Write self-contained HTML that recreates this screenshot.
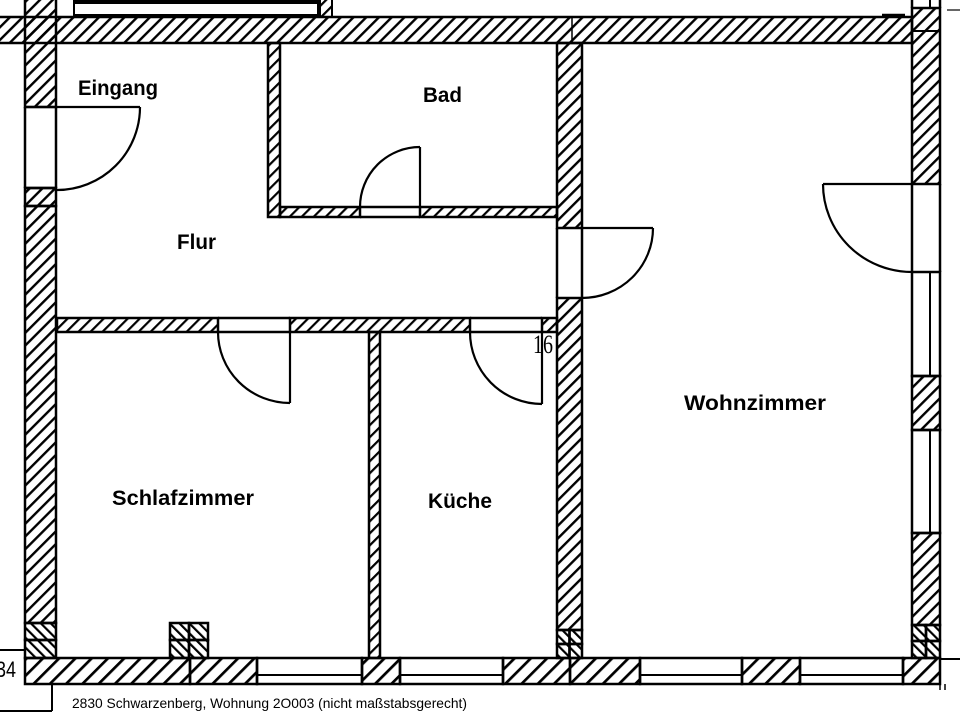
<!DOCTYPE html>
<html><head><meta charset="utf-8"><style>
html,body{margin:0;padding:0;background:#fff;}
svg{display:block;}
</style></head><body>
<svg width="960" height="720" viewBox="0 0 960 720" xmlns="http://www.w3.org/2000/svg">
<defs>
<pattern id="hA" width="9" height="9" patternUnits="userSpaceOnUse" patternTransform="rotate(45)"><rect x="0" y="0" width="2.4" height="9" fill="#000"/></pattern>
<pattern id="hB" width="11.5" height="11.5" patternUnits="userSpaceOnUse" patternTransform="rotate(45)"><rect x="0" y="0" width="2.7" height="11.5" fill="#000"/></pattern>
<pattern id="hT" width="8.5" height="8.5" patternUnits="userSpaceOnUse" patternTransform="rotate(45)"><rect x="0" y="0" width="2.2" height="8.5" fill="#000"/></pattern>
<pattern id="hX" width="7" height="7" patternUnits="userSpaceOnUse" patternTransform="rotate(-45)"><rect x="0" y="0" width="2.2" height="7" fill="#000"/></pattern>
</defs>
<rect width="960" height="720" fill="#fff"/>

<!-- top frame -->
<g stroke="#000" stroke-width="2" fill="none">
  <rect x="73" y="0" width="247" height="4" fill="#000" stroke="none"/>
  <line x1="73" y1="15" x2="318" y2="15"/>
  <line x1="74" y1="0" x2="74" y2="17"/>
  <line x1="318" y1="0" x2="318" y2="16"/>
</g>
<rect x="320" y="-2" width="12" height="19" fill="url(#hT)" stroke="#000" stroke-width="2"/>
<line x1="882" y1="15" x2="905" y2="15" stroke="#000" stroke-width="2.5"/>
<line x1="947" y1="10" x2="960" y2="10" stroke="#000" stroke-width="1.2"/>

<g stroke="#000" stroke-width="2.5">
  <!-- top wall -->
  <rect x="-2" y="17" width="914" height="26" fill="url(#hA)"/>
  <line x1="572" y1="17" x2="572" y2="43" stroke-width="1.5"/>

  <!-- left wall -->
  <rect x="25" y="-3" width="31" height="110" fill="url(#hA)"/>
  <rect x="25" y="188" width="31" height="18" fill="url(#hA)"/>
  <rect x="25" y="206" width="31" height="417" fill="url(#hA)"/>
  <rect x="25" y="623" width="31" height="17" fill="url(#hX)"/>
  <rect x="25" y="640" width="31" height="18" fill="url(#hX)"/>
  <line x1="25" y1="107" x2="25" y2="188"/>
  <line x1="56" y1="107" x2="56" y2="188"/>
  <line x1="25" y1="188" x2="56" y2="188"/>

  <!-- right wall -->
  <line x1="912" y1="0" x2="912" y2="8"/>
  <line x1="930" y1="0" x2="930" y2="8" stroke-width="2"/>
  <line x1="940" y1="0" x2="940" y2="8"/>
  <rect x="912" y="8" width="28" height="176" fill="url(#hA)"/>
  <line x1="912" y1="31" x2="940" y2="31" stroke-width="2"/>
  <line x1="912" y1="184" x2="912" y2="272"/>
  <line x1="940" y1="184" x2="940" y2="272"/>
  <rect x="912" y="272" width="28" height="104" fill="none"/>
  <line x1="930" y1="272" x2="930" y2="376" stroke-width="2"/>
  <rect x="912" y="376" width="28" height="54" fill="url(#hA)"/>
  <rect x="912" y="430" width="28" height="103" fill="none"/>
  <line x1="930" y1="430" x2="930" y2="533" stroke-width="2"/>
  <rect x="912" y="533" width="28" height="92" fill="url(#hA)"/>
  <rect x="912" y="625" width="14" height="16" fill="url(#hX)"/>
  <rect x="926" y="625" width="14" height="16" fill="url(#hX)"/>
  <rect x="912" y="641" width="14" height="17" fill="url(#hX)"/>
  <rect x="926" y="641" width="14" height="17" fill="url(#hX)"/>

  <!-- bottom wall -->
  <rect x="25" y="658" width="165" height="26" fill="url(#hB)"/>
  <rect x="190" y="658" width="67" height="26" fill="url(#hB)"/>
  <rect x="257" y="658" width="105" height="26" fill="none"/>
  <line x1="257" y1="675" x2="362" y2="675" stroke-width="2"/>
  <rect x="362" y="658" width="38" height="26" fill="url(#hB)"/>
  <rect x="400" y="658" width="103" height="26" fill="none"/>
  <line x1="400" y1="675" x2="503" y2="675" stroke-width="2"/>
  <rect x="503" y="658" width="67" height="26" fill="url(#hB)"/>
  <rect x="570" y="658" width="70" height="26" fill="url(#hB)"/>
  <rect x="640" y="658" width="102" height="26" fill="none"/>
  <line x1="640" y1="675" x2="742" y2="675" stroke-width="2"/>
  <rect x="742" y="658" width="58" height="26" fill="url(#hB)"/>
  <rect x="800" y="658" width="103" height="26" fill="none"/>
  <line x1="800" y1="675" x2="903" y2="675" stroke-width="2"/>
  <rect x="903" y="658" width="37" height="26" fill="url(#hB)"/>
  <line x1="940" y1="659" x2="962" y2="659" stroke-width="2"/>
  <line x1="940" y1="684" x2="940" y2="690" stroke-width="1.5"/>
  <line x1="945" y1="684" x2="945" y2="690" stroke-width="1.5"/>

  <!-- middle wall -->
  <rect x="557" y="43" width="25" height="185" fill="url(#hA)"/>
  <line x1="557" y1="228" x2="557" y2="298"/>
  <line x1="582" y1="228" x2="582" y2="298"/>
  <rect x="557" y="298" width="25" height="332" fill="url(#hA)"/>
  <rect x="557" y="630" width="12.5" height="14" fill="url(#hX)"/>
  <rect x="569.5" y="630" width="12.5" height="14" fill="url(#hX)"/>
  <rect x="557" y="644" width="12.5" height="14" fill="url(#hX)"/>
  <rect x="569.5" y="644" width="12.5" height="14" fill="url(#hX)"/>

  <!-- Bad walls -->
  <rect x="268" y="43" width="12" height="174" fill="url(#hT)"/>
  <rect x="280" y="207" width="80" height="10" fill="url(#hT)"/>
  <line x1="360" y1="207" x2="420" y2="207"/>
  <line x1="360" y1="217" x2="420" y2="217"/>
  <rect x="420" y="207" width="137" height="10" fill="url(#hT)"/>

  <!-- Flur bottom wall -->
  <rect x="57" y="318" width="161" height="14" fill="url(#hT)"/>
  <line x1="218" y1="318" x2="290" y2="318"/>
  <line x1="218" y1="332" x2="290" y2="332"/>
  <rect x="290" y="318" width="180" height="14" fill="url(#hT)"/>
  <line x1="470" y1="318" x2="542" y2="318"/>
  <line x1="470" y1="332" x2="542" y2="332"/>
  <rect x="542" y="318" width="15" height="14" fill="url(#hT)"/>

  <!-- Kueche wall -->
  <rect x="369" y="332" width="11" height="326" fill="url(#hT)"/>

  <!-- Schlafzimmer pillar -->
  <rect x="170" y="623" width="19" height="17" fill="url(#hX)"/>
  <rect x="189" y="623" width="19" height="17" fill="url(#hX)"/>
  <rect x="170" y="640" width="19" height="18" fill="url(#hX)"/>
  <rect x="189" y="640" width="19" height="18" fill="url(#hX)"/>
</g>

<!-- doors -->
<g stroke="#000" stroke-width="2.2" fill="none">
  <line x1="25" y1="107" x2="140" y2="107"/>
  <path d="M140,107 A83,83 0 0 1 57,190"/>
  <line x1="420" y1="147" x2="420" y2="207"/>
  <path d="M420,147 A60,60 0 0 0 360,207"/>
  <line x1="582" y1="228" x2="653" y2="228"/>
  <path d="M653,228 A71,70 0 0 1 582,298"/>
  <line x1="290" y1="332" x2="290" y2="403"/>
  <path d="M218,332 A72,71 0 0 0 290,403"/>
  <line x1="542" y1="332" x2="542" y2="404"/>
  <path d="M470,332 A72,72 0 0 0 542,404"/>
  <line x1="823" y1="184" x2="912" y2="184"/>
  <path d="M823,184 A89,88 0 0 0 912,272"/>
</g>

<!-- bottom-left box -->
<g stroke="#000" stroke-width="2" fill="none">
  <line x1="0" y1="650" x2="25" y2="650"/>
  <line x1="52" y1="684" x2="52" y2="711"/>
  <line x1="0" y1="711" x2="52" y2="711"/>
</g>
<text x="-4" y="677" font-family="Liberation Sans, sans-serif" font-size="22" textLength="20" lengthAdjust="spacingAndGlyphs" fill="#000">34</text>

<text x="533" y="353" font-family="Liberation Serif, serif" font-size="26" textLength="20" lengthAdjust="spacingAndGlyphs" fill="#000">16</text>

<!-- labels -->
<g font-family="Liberation Sans, sans-serif" font-weight="bold" font-size="21" fill="#000">
  <text x="78" y="95" textLength="80" lengthAdjust="spacingAndGlyphs">Eingang</text>
  <text x="423" y="102" textLength="39" lengthAdjust="spacingAndGlyphs">Bad</text>
  <text x="177" y="249" textLength="39" lengthAdjust="spacingAndGlyphs">Flur</text>
  <text x="112" y="505" textLength="142" lengthAdjust="spacingAndGlyphs">Schlafzimmer</text>
  <text x="428" y="508" textLength="64" lengthAdjust="spacingAndGlyphs">Küche</text>
  <text x="684" y="410" textLength="142" lengthAdjust="spacingAndGlyphs">Wohnzimmer</text>
</g>
<text x="72" y="708" font-family="Liberation Sans, sans-serif" font-size="14" textLength="395" lengthAdjust="spacingAndGlyphs" fill="#000">2830 Schwarzenberg, Wohnung 2O003 (nicht maßstabsgerecht)</text>
</svg>
</body></html>
